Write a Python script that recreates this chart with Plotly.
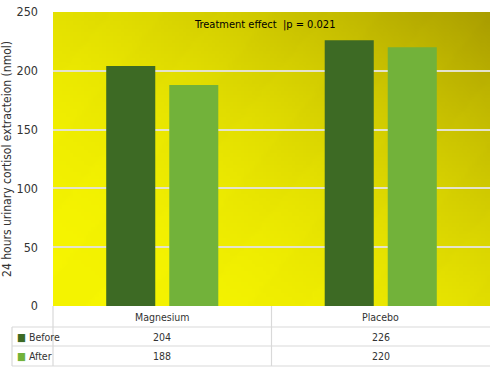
import base64, struct, zlib
import plotly.graph_objects as go

categories = ["Magnesium", "Placebo"]
series_names = ["Before", "After"]
before_values = [204, 226]
after_values = [188, 220]
y_ticks = [0, 50, 100, 150, 200, 250]
y_title = "24 hours urinary cortisol extracteion (nmol)"
note_text = "Treatment effect  |p = 0.021"

FONT = "DejaVu Sans Condensed, Liberation Sans Narrow, sans-serif"
TXT = "#333333"
BEFORE_C = "#3d6a24"
AFTER_C = "#72b23a"
GRID = "#e4e2cc"
TLINE = "#d9d9d9"


def make_png(w, h):
    bright = (246, 245, 0)
    dark = (170, 158, 0)
    rows = []
    for j in range(h):
        yn = 1 - j / (h - 1)
        row = bytearray([0])
        for i in range(w):
            xn = i / (w - 1)
            u = 0.52 * xn + 0.48 * yn
            f = u ** 2.1
            s = ((xn * 4.0 + (1 - yn) * 2.2) % 1.0)
            f += 0.02 if s < 0.5 else 0.0
            f = min(1.0, f)
            row += bytes(int(round(bright[k] + (dark[k] - bright[k]) * f)) for k in range(3))
        rows.append(bytes(row))
    raw = b"".join(rows)

    def chunk(tag, data):
        c = tag + data
        return struct.pack(">I", len(data)) + c + struct.pack(">I", zlib.crc32(c) & 0xffffffff)

    png = b"\x89PNG\r\n\x1a\n"
    png += chunk(b"IHDR", struct.pack(">IIBBBBB", w, h, 8, 2, 0, 0, 0))
    png += chunk(b"IDAT", zlib.compress(raw, 9))
    png += chunk(b"IEND", b"")
    return "data:image/png;base64," + base64.b64encode(png).decode()


def fnt(size, color=TXT, weight="normal"):
    return dict(family=FONT, size=size, color=color, weight=weight)


fig = go.Figure()
fig.add_trace(go.Bar(x=categories, y=before_values, name=series_names[0],
                     marker=dict(color=BEFORE_C, line=dict(width=0))))
fig.add_trace(go.Bar(x=categories, y=after_values, name=series_names[1],
                     marker=dict(color=AFTER_C, line=dict(width=0))))

W, H = 490, 377
ML, MR, MT, MB = 53, 0, 12, 71
PW, PH = W - ML - MR, H - MT - MB


def px_to_py(py):
    return (H - MB - py) / PH


def px_to_px(px):
    return (px - ML) / PW


shapes = []
annotations = []

y_rows = [px_to_py(306), px_to_py(327), px_to_py(346), px_to_py(366)]
x_left = px_to_px(12)


def hline(y, x0, x1):
    shapes.append(dict(type="line", xref="paper", yref="paper", x0=x0, x1=x1, y0=y, y1=y,
                       line=dict(color=TLINE, width=1.2)))


def vline(x, y0, y1):
    shapes.append(dict(type="line", xref="paper", yref="paper", x0=x, x1=x, y0=y0, y1=y1,
                       line=dict(color=TLINE, width=1.2)))


hline(y_rows[1], x_left, 1.0)
hline(y_rows[2], x_left, 1.0)
hline(y_rows[3], x_left, 1.0)
vline(x_left, y_rows[1], y_rows[3])
vline(0.0, y_rows[0], y_rows[3])
vline(0.5, y_rows[0], y_rows[3])

for i, c in enumerate(categories):
    annotations.append(dict(xref="paper", yref="paper", x=(i + 0.5) / len(categories),
                            y=(y_rows[0] + y_rows[1]) / 2, text=c, showarrow=False,
                            font=fnt(10.5), xanchor="center", yanchor="middle"))

for r, (name, vals, col) in enumerate([(series_names[0], before_values, BEFORE_C),
                                        (series_names[1], after_values, AFTER_C)]):
    ymid = (y_rows[r + 1] + y_rows[r + 2]) / 2
    annotations.append(dict(xref="paper", yref="paper", x=x_left + 0.006, y=ymid,
                            text=f"<span style='color:{col}'>■</span> {name}",
                            showarrow=False, xanchor="left", yanchor="middle",
                            font=fnt(10.5)))
    for i, v in enumerate(vals):
        annotations.append(dict(xref="paper", yref="paper", x=(i + 0.5) / len(categories),
                                y=ymid, text=str(v), showarrow=False,
                                xanchor="center", yanchor="middle", font=fnt(10.5)))

annotations.append(dict(xref="paper", yref="paper", x=0.485, y=px_to_py(24),
                        text=note_text, showarrow=False, xanchor="center", yanchor="middle",
                        font=fnt(11, "#000000")))

fig.update_layout(
    width=W, height=H,
    margin=dict(l=ML, r=MR, t=MT, b=MB, pad=0),
    paper_bgcolor="white",
    plot_bgcolor="rgba(0,0,0,0)",
    barmode="group",
    bargap=0.423,
    bargroupgap=0.222,
    showlegend=False,
    font=dict(family=FONT, color=TXT),
    xaxis=dict(showticklabels=False, showgrid=False, zeroline=False, showline=False,
               range=[-0.5, 1.5], fixedrange=True, automargin=False),
    yaxis=dict(range=[0, 250], tickvals=y_ticks, showgrid=True, gridcolor=GRID, gridwidth=1.5,
               zeroline=False, showline=False, ticks="", ticklabelstandoff=14,
               tickfont=fnt(12.5),
               title=dict(text=y_title, font=fnt(12), standoff=3),
               fixedrange=True, automargin=False),
    images=[dict(source=make_png(120, 80), xref="paper", yref="paper", x=0, y=1,
                 sizex=1, sizey=1, sizing="stretch", layer="below", xanchor="left", yanchor="top")],
    shapes=shapes,
    annotations=annotations,
)

fig.write_html("out.html", config={"displayModeBar": False},
               post_script="document.body.style.margin='0';document.body.style.padding='0';")
